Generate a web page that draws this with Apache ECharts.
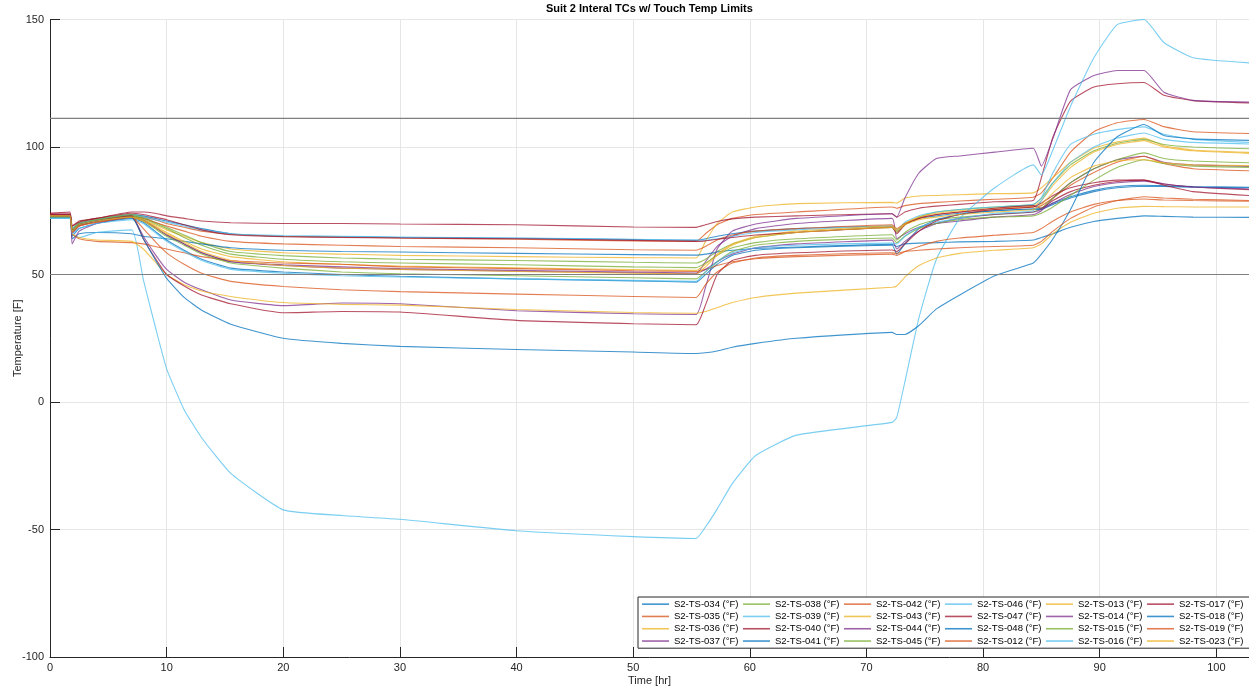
<!DOCTYPE html>
<html>
<head>
<meta charset="utf-8">
<script src="https://cdn.jsdelivr.net/npm/echarts@6/dist/echarts.min.js"></script>
<style>
  html, body { margin: 0; padding: 0; background: #ffffff; }
  #chart { width: 1249px; height: 692px; }
</style>
</head>
<body>
<div id="chart"></div>
<script>
// Sample times (hours) shared by every thermocouple trace
const hours = [0, 1.7, 1.9, 2.5, 4, 7, 8, 9, 10, 11.5, 13, 15.5, 20, 25, 30, 40, 50, 55.4, 56.2, 57.2,
  58.5, 60.5, 64, 72.2, 72.6, 73.3, 74.5, 76, 78, 81, 84.3, 85, 86, 87.5, 89.5, 91.5, 93.8, 95.5, 98, 102.8];

// Temperatures (°F) per thermocouple, one value per entry of `hours`
const ts034 = [73.5, 73.5, 68, 70, 71.5, 73.5, 73, 72, 71, 69.5, 68, 66, 65, 64.8, 64.5, 64.2, 63.7, 63.4, 64, 65, 66, 67, 68, 69, 67, 70, 72, 73, 74, 75, 75.8, 76, 78, 80.5, 83, 84.5, 85, 84.8, 84.5, 84.2];
const ts035 = [73.5, 73.5, 67, 69.5, 71, 73, 72.5, 71.5, 70, 68.5, 67, 65.8, 65, 64.7, 64.3, 63.8, 63.2, 63, 66, 69.5, 72, 73.5, 74.5, 76.5, 76, 77, 77.8, 78.3, 78.8, 79.5, 80.3, 82, 88, 98, 106, 109.5, 110.8, 108, 106, 105.3];
const ts036 = [73, 73, 67.5, 69.5, 71, 72.5, 71.5, 69.5, 67.5, 65, 62.5, 60, 58.5, 58, 57.5, 57, 56.6, 56.5, 63, 70, 74.5, 76.5, 77.8, 78.3, 78, 80, 80.8, 81, 81.3, 81.7, 82, 84, 88, 94, 99.5, 102, 103.5, 100.5, 98.8, 97.9];
const ts037 = [73.5, 73.5, 66, 69, 71, 73, 71.5, 68.5, 65.5, 62, 58.5, 55, 53.5, 52.5, 52, 51.3, 50.7, 50.3, 55, 61, 65, 68, 70, 72, 64, 66, 68.5, 70, 71, 72.5, 73.5, 75, 80, 86, 91.5, 95, 96.4, 94, 93, 92.4];
const ts038 = [73.5, 73.5, 68, 70.5, 72, 73.5, 72.5, 70.5, 68.5, 65.5, 62.5, 59, 57.4, 56.5, 56, 55.5, 54.8, 54.5, 56, 59, 62, 64.5, 66.5, 68.5, 66.5, 69.5, 72.5, 74.5, 75.5, 76.5, 77.4, 80, 86, 93, 98.5, 101.5, 103, 101, 100, 99.3];
const ts039 = [73, 73, 68, 70, 71.5, 73, 72.5, 71.5, 70.5, 69, 67.5, 66, 65.3, 65, 64.7, 64.3, 63.8, 63.5, 63.5, 64, 65, 66.5, 67.5, 69, 67.5, 70.5, 73, 74.5, 75.5, 76.5, 77.5, 80, 90, 101, 105, 106.8, 107.9, 105, 103, 101.8];
const ts040 = [74, 74.5, 69, 71, 72, 74.5, 74.5, 74, 73, 72, 71, 70.3, 70, 70, 69.8, 69.5, 68.6, 68.5, 69.5, 70.8, 71.8, 72.5, 73, 73.8, 72.5, 74.5, 76, 76.8, 77.5, 78.5, 79, 88, 104, 118, 123.5, 124.8, 125.3, 120.3, 118.2, 117.3];
const ts041 = [72.5, 72.5, 64, 66, 66.5, 66, 65, 64.5, 64, 63, 62, 60.5, 59.5, 59, 58.8, 58.3, 57.8, 57.6, 58, 58.8, 59.5, 60.2, 60.8, 61.8, 61, 62, 62.3, 62.5, 62.8, 63, 63.5, 64.5, 66, 68.5, 70.8, 72, 73, 72.8, 72.5, 72.4];
const ts042 = [73, 73, 67, 69, 70.5, 72.5, 72, 70.5, 69, 67, 65, 63, 62, 61.5, 61, 60.5, 59.7, 59.5, 61, 63.5, 65.5, 67, 68, 69.5, 68, 70, 72, 73.5, 74.5, 75.5, 76.5, 77, 80, 85, 90, 94, 96.4, 93.5, 91.5, 90.7];
const ts043 = [73, 73, 67, 69.5, 71, 72.8, 71.5, 69, 66.5, 63, 60, 57, 55, 54, 53.3, 52.6, 51.9, 51.6, 54, 58, 62, 65, 67, 69, 67.5, 70, 72.5, 74, 75, 76, 76.8, 79, 85, 92, 98, 101, 102.5, 100, 98.5, 97.5];
const ts044 = [73.5, 73.5, 67, 69.5, 71, 72.5, 65, 58, 52, 47, 44, 40, 37.8, 38.8, 38.5, 35.8, 34.6, 34.3, 45, 60, 67, 69.8, 72, 73.8, 72.5, 80, 89.8, 95.5, 96.5, 98, 99.5, 92.5, 103.5, 122.5, 128, 130, 130, 121.5, 118.3, 117.6];
const ts045 = [73, 73, 67.5, 70, 71.5, 73, 72, 70, 68, 64.5, 61.5, 58, 56, 55, 54.5, 53.8, 53, 52.7, 54.5, 57.5, 60.5, 62.5, 64, 65.6, 63.5, 66.5, 69.5, 71.5, 72.5, 73.5, 74.5, 76, 80, 86, 91.5, 95, 97.7, 95.5, 94.5, 93.8];
const ts046 = [72, 72, 66, 64.5, 66.5, 67.5, 48, 30, 13, -3, -14, -28, -42.3, -44.5, -46, -50.5, -52.8, -53.5, -49, -42, -32, -21, -13, -8, -6, 8, 33, 56, 72, 84, 93, 89, 99, 116, 135, 148, 150, 141, 135, 133];
const ts047 = [74, 74, 69, 70.5, 72, 74, 73.5, 72.5, 71.5, 69.5, 67.5, 65.6, 64.8, 64.5, 64.3, 64, 63.4, 63, 63.2, 63.8, 64.5, 65.5, 66.5, 68.5, 66, 69.5, 72, 73.5, 74.5, 76, 77, 76, 79, 82.5, 85, 86.5, 87, 85.5, 84.3, 83.3];
const ts048 = [72.5, 72.5, 65, 68, 70, 72, 70.5, 67, 63.5, 59.5, 56, 52.5, 51, 50, 49.3, 48.3, 47.5, 47, 50, 54, 57.5, 59.5, 60.5, 61.5, 58, 62, 68, 71.5, 73.5, 75, 75.5, 75.5, 77.5, 80, 82.5, 84, 84.6, 84.5, 84.2, 84];
const ts012 = [73, 73, 66, 64, 63, 62.5, 62, 61, 60, 58.5, 57, 55.5, 54.5, 54, 53, 52.3, 51.5, 51.2, 52, 53.5, 55, 56.2, 57, 58, 57.5, 59, 61, 63, 64.3, 65.4, 66.5, 68, 71, 74.5, 77.5, 79, 79.6, 79.2, 79, 78.7];
const ts013 = [73.5, 73.5, 66, 64.5, 63.5, 63, 60, 55, 50, 46, 43.5, 41.4, 39, 38.3, 38, 36.3, 35.1, 34.8, 35.5, 37, 39, 41, 42.7, 45, 45.5, 49, 53.5, 56.5, 58.3, 59.5, 60.5, 62, 66, 70.5, 74, 76, 76.7, 76.6, 76.5, 76.5];
const ts014 = [73.5, 73.5, 62, 67, 70, 72.5, 71, 68.5, 65.5, 62, 58.5, 55, 53.8, 53, 52.3, 51.6, 51, 50.6, 52, 55, 58, 60.5, 62, 63.5, 60, 63, 67, 70, 72, 73.5, 74.5, 75.5, 78, 81.5, 84.5, 86, 86.6, 85.5, 84.3, 83.5];
const ts015 = [72.5, 72.5, 67, 69.5, 71, 72.5, 71, 68, 65, 61.5, 58, 54.5, 52.5, 51, 50.3, 49.5, 48.7, 48.3, 51, 55, 59, 61.5, 63, 64.3, 62.5, 65, 68, 70, 71.5, 72.5, 73, 74, 76.5, 81, 87, 92, 95, 93.5, 92.5, 92];
const ts016 = [72, 72, 66, 68, 70, 71.5, 70, 66.5, 63, 59, 55.5, 52, 50.5, 49.5, 49, 48.3, 47.7, 47.3, 51, 55, 58.5, 60.5, 61.5, 62.3, 62, 65, 68.5, 70.5, 72, 74, 75, 79, 86, 94, 100, 103.5, 105.5, 103, 101.8, 101.2];
const ts017 = [73.5, 73.5, 67, 69.5, 71, 73, 64, 56.5, 50, 45.5, 42, 38.5, 35, 35.5, 35.3, 32, 30.7, 30.3, 38, 50, 55.5, 57.5, 58.5, 59.6, 59, 62, 67, 71, 73.5, 75.5, 76.5, 78, 81, 84, 86, 87, 87, 85, 82.5, 81];
const ts018 = [73, 73, 67, 69.5, 71, 72.5, 64, 56, 48.5, 41, 36, 30.5, 25, 23, 21.8, 20.6, 19.6, 19, 19.3, 20, 21.5, 23, 25, 27.3, 26.5, 26.5, 30, 36.5, 42, 49.5, 54.5, 58, 64, 75.5, 94, 104, 108.8, 104.5, 103.2, 102.6];
const ts019 = [73, 73, 66.5, 69, 70.5, 72.5, 68, 63, 58.5, 54, 50.5, 47.3, 45.3, 44, 43.3, 42.3, 41.4, 41, 46, 51, 54.5, 56.5, 57.5, 58.5, 58.3, 59, 59.5, 60, 60.5, 61, 61.5, 63, 67, 72, 76.5, 79, 80.5, 80, 79.5, 79];
const ts023 = [73, 73, 67, 69.5, 71, 72.5, 71, 68.5, 66, 62.5, 59, 55.5, 53.5, 52.5, 52, 51.2, 50.5, 50.2, 53, 57.5, 61.5, 64.5, 66.5, 68.5, 67, 69.5, 71.5, 72.5, 73.5, 74.5, 75.5, 77.5, 82, 88, 92.5, 94.5, 95, 93.8, 93, 92.7];

// Touch temperature limits (°F): 44 °C upper, 10 °C lower
const touchLimits = [111.2, 50];

// Plot order of the traces, as listed in the legend
const traceNames = ['S2-TS-034 (°F)', 'S2-TS-035 (°F)', 'S2-TS-036 (°F)', 'S2-TS-037 (°F)', 'S2-TS-038 (°F)',
  'S2-TS-039 (°F)', 'S2-TS-040 (°F)', 'S2-TS-041 (°F)', 'S2-TS-042 (°F)', 'S2-TS-043 (°F)', 'S2-TS-044 (°F)',
  'S2-TS-045 (°F)', 'S2-TS-046 (°F)', 'S2-TS-047 (°F)', 'S2-TS-048 (°F)', 'S2-TS-012 (°F)', 'S2-TS-013 (°F)',
  'S2-TS-014 (°F)', 'S2-TS-015 (°F)', 'S2-TS-016 (°F)', 'S2-TS-017 (°F)', 'S2-TS-018 (°F)', 'S2-TS-019 (°F)',
  'S2-TS-023 (°F)'];
const traceValues = [ts034, ts035, ts036, ts037, ts038, ts039, ts040, ts041, ts042, ts043, ts044, ts045,
  ts046, ts047, ts048, ts012, ts013, ts014, ts015, ts016, ts017, ts018, ts019, ts023];

const xTicks = { min: 0, max: 102.8, step: 10 };
const yTicks = { min: -100, max: 150, step: 50 };

// Default MATLAB line colour order
const lineColors = ['#0072BD', '#D95319', '#EDB120', '#7E2F8E', '#77AC30', '#4DBEEE', '#A2142F'];
const ink = '#262626';
const font = 'Liberation Sans, Arial, Helvetica, sans-serif';

const series = traceNames.map((name, i) => ({
  name: name,
  type: 'line',
  symbol: 'none',
  silent: true,
  smooth: 0.15,
  data: hours.map((h, k) => [h, traceValues[i][k]]),
  lineStyle: { width: 1.1, color: lineColors[i % lineColors.length], opacity: 0.75 },
  itemStyle: { color: lineColors[i % lineColors.length] },
  z: 2
}));

touchLimits.forEach((lim, i) => {
  series.push({
    name: 'limit' + i,
    type: 'line',
    symbol: 'none',
    silent: true,
    data: [[xTicks.min, lim], [xTicks.max, lim]],
    lineStyle: { width: 1.2, color: '#7f7f7f' },
    z: 3
  });
});

// Legend fills six columns top-to-bottom, four entries per column
const rows = 4, cols = 6;
const legendOrder = [];
for (let r = 0; r < rows; r++) {
  for (let c = 0; c < cols; c++) {
    const idx = c * rows + r;
    if (idx < traceNames.length) legendOrder.push(traceNames[idx]);
  }
}

const chart = echarts.init(document.getElementById('chart'), null, { renderer: 'canvas' });
chart.setOption({
  animation: false,
  backgroundColor: '#ffffff',
  textStyle: { fontFamily: font },
  title: {
    text: 'Suit 2 Interal TCs w/ Touch Temp Limits',
    left: 546,
    top: 3,
    padding: 0,
    textStyle: { fontFamily: font, fontSize: 11, fontWeight: 'bold', color: '#000000' }
  },
  grid: { left: 50, right: 0, top: 19.5, bottom: 35, containLabel: false, outerBoundsMode: 'none' },
  xAxis: {
    type: 'value',
    min: xTicks.min,
    max: xTicks.max,
    interval: xTicks.step,
    name: 'Time [hr]',
    nameLocation: 'middle',
    nameGap: 18,
    nameMoveOverlap: false,
    nameTextStyle: { fontFamily: font, fontSize: 11, color: ink },
    axisLine: { onZero: false, lineStyle: { color: ink, width: 1 } },
    axisTick: { inside: true, length: 10, lineStyle: { color: ink } },
    axisLabel: { fontFamily: font, fontSize: 11, color: ink, margin: 5, showMaxLabel: false },
    splitLine: { show: true, lineStyle: { color: '#e6e6e6', width: 1 } }
  },
  yAxis: {
    type: 'value',
    min: yTicks.min,
    max: yTicks.max,
    interval: yTicks.step,
    name: 'Temperature [F]',
    nameLocation: 'middle',
    nameGap: 27,
    nameMoveOverlap: false,
    nameTextStyle: { fontFamily: font, fontSize: 11, color: ink },
    axisLine: { show: true, onZero: false, lineStyle: { color: ink, width: 1 } },
    axisTick: { show: true, inside: true, length: 10, lineStyle: { color: ink } },
    axisLabel: { fontFamily: font, fontSize: 11, color: ink, margin: 6 },
    splitLine: { show: true, lineStyle: { color: '#e6e6e6', width: 1 } }
  },
  legend: {
    data: legendOrder,
    orient: 'horizontal',
    left: 638,
    top: 597,
    width: 612,
    padding: [2, 4, 2, 4],
    icon: 'rect',
    itemWidth: 27,
    itemHeight: 1.6,
    itemGap: 2,
    itemStyle: { opacity: 0.75 },
    backgroundColor: '#ffffff',
    borderColor: '#262626',
    borderWidth: 1,
    borderRadius: 0,
    selectedMode: false,
    textStyle: { fontFamily: font, fontSize: 9.5, color: '#000000', width: 67, lineHeight: 10.3 }
  },
  series: series
});
</script>
</body>
</html>
